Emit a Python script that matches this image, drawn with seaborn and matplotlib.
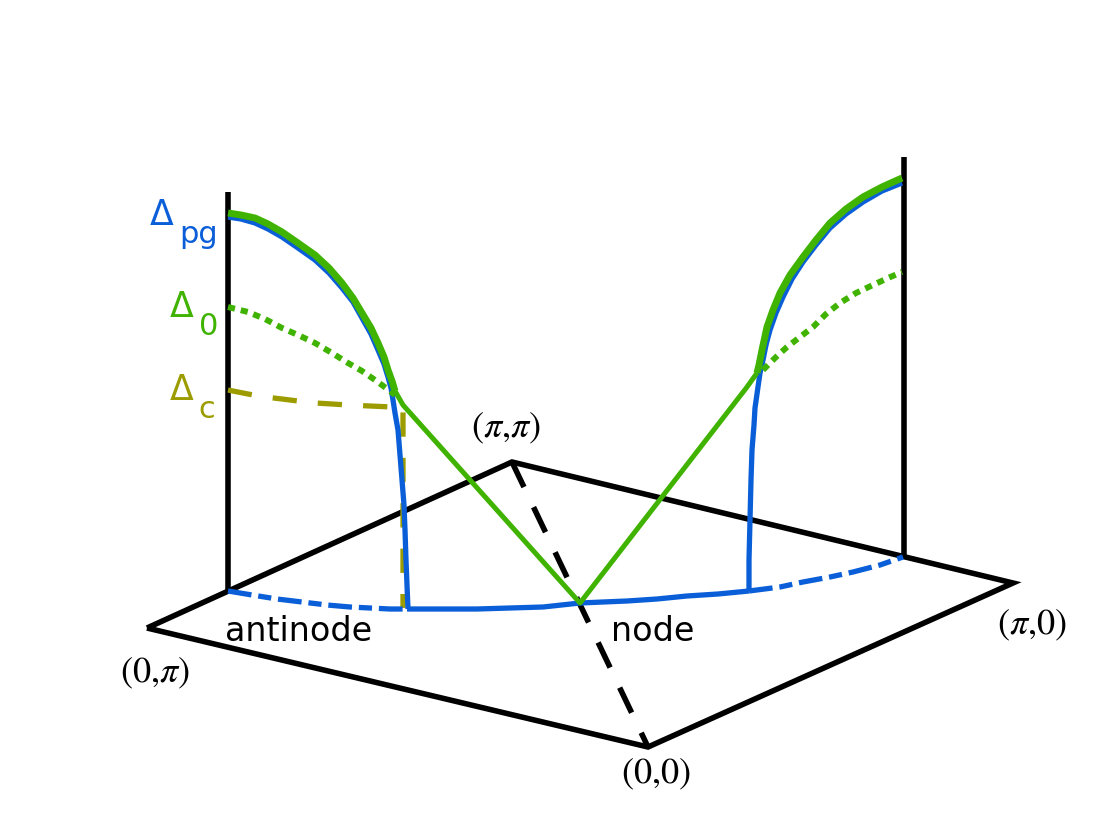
import matplotlib
matplotlib.use('Agg')
import matplotlib.pyplot as plt
import seaborn as sns

# colours
BLUE = '#0a5fd8'
GREEN = '#3fb300'
OLIVE = '#9c9c00'
BLACK = '#000000'

# base square (pixel coords, y grows downward)
base_x = [147, 512, 1013, 648, 147]
base_y = [628, 462, 583, 747, 628]
diag_x = [512, 648]
diag_y = [462, 747]
left_axis_x = [228, 228]
left_axis_y = [592, 192]
right_axis_x = [904, 904]
right_axis_y = [557, 157]

# Fermi arc at the bottom
arc_left_x = [228, 252, 277, 302, 327, 350, 370, 390, 407]
arc_left_y = [591, 595, 599, 602, 605, 607, 608, 609, 609]
arc_mid_x = [407, 440, 477, 510, 543, 580, 603, 627, 657, 687, 718, 749]
arc_mid_y = [609, 609, 609, 608, 607, 603, 602, 601, 599, 596, 594, 591]
arc_right_x = [749, 780, 803, 830, 853, 880, 903]
arc_right_y = [591, 587, 582, 577, 572, 565, 557]

# pseudogap, blue
pg_blue_left_x = [228, 241, 255, 268, 282, 298, 315, 329, 342, 353, 362, 371, 378,
                  384, 388, 391, 393, 395, 398, 400, 402, 404, 405, 406, 407, 408]
pg_blue_left_y = [217, 219, 223, 229, 237, 248, 260, 273, 288, 302, 318, 334, 350,
                  364, 377, 388, 400, 413, 430, 455, 480, 505, 530, 560, 585, 609]
pg_blue_right_x = [749, 749, 750, 751, 752, 754, 755, 758, 760, 763, 766, 770, 776,
                   783, 792, 803, 816, 830, 846, 863, 882, 902]
pg_blue_right_y = [591, 560, 520, 480, 450, 425, 408, 387, 373, 360, 345, 330, 313,
                   297, 279, 262, 245, 228, 214, 202, 191, 183]

# pseudogap, green
pg_green_left_x = [228, 241, 255, 268, 282, 298, 315, 329, 342, 353, 362, 371, 378,
                   384, 388, 392, 395]
pg_green_left_y = [213, 215, 218, 224, 232, 243, 255, 268, 283, 298, 313, 328, 343,
                   357, 370, 381, 391]
pg_green_right_x = [757, 759, 762, 767, 773, 780, 790, 803, 816, 830, 846, 863, 882, 902]
pg_green_right_y = [373, 365, 350, 327, 310, 293, 275, 257, 240, 223, 209, 197, 187, 178]
vee_x = [395, 403, 580, 747, 757]
vee_y = [391, 405, 603, 387, 373]

# Delta_0 dotted
d0_left_x = [228, 248, 265, 282, 298, 315, 332, 348, 362, 375, 386, 395]
d0_left_y = [307, 312, 319, 328, 335, 343, 353, 363, 371, 380, 388, 395]
d0_right_x = [763, 775, 787, 800, 813, 826, 840, 856, 873, 888, 902]
d0_right_y = [370, 358, 347, 337, 327, 314, 303, 293, 285, 278, 272]

# Delta_c dashed
dc_x = [228, 248, 265, 282, 298, 315, 332, 348, 370, 392, 403, 403]
dc_y = [390, 394, 397, 399, 401, 403, 404, 405, 406, 407, 407, 608]

sns.set_style('white')
fig = plt.figure(figsize=(11.2, 8.4), dpi=100)
ax = fig.add_axes([0, 0, 1, 1])
ax.set_xlim(0, 1120)
ax.set_ylim(840, 0)
ax.axis('off')


def curve(xs, ys, color, lw, ls='-', z=2):
    sns.lineplot(x=xs, y=ys, sort=False, estimator=None, color=color,
                 linewidth=lw, linestyle=ls, ax=ax, zorder=z)
    ax.lines[-1].set_solid_capstyle('butt')
    ax.lines[-1].set_solid_joinstyle('round')


curve(base_x, base_y, BLACK, 4.0, z=1)
ax.lines[-1].set_solid_joinstyle('miter')
curve(diag_x, diag_y, BLACK, 4.0, (0, (5.0, 4.0)), z=1)
curve(left_axis_x, left_axis_y, BLACK, 4.0, z=1)
curve(right_axis_x, right_axis_y, BLACK, 4.0, z=1)

curve(dc_x, dc_y, OLIVE, 3.8, (0, (4.6, 4.0)), z=2)

blue_dash = (0, (4.5, 1.3, 2.5, 1.3))
curve(arc_left_x, arc_left_y, BLUE, 3.8, blue_dash, z=3)
curve(arc_mid_x, arc_mid_y, BLUE, 3.8, z=3)
curve(arc_right_x, arc_right_y, BLUE, 3.8, blue_dash, z=3)
curve(pg_blue_left_x, pg_blue_left_y, BLUE, 3.8, z=3)
curve(pg_blue_right_x, pg_blue_right_y, BLUE, 3.8, z=3)

curve(d0_left_x, d0_left_y, GREEN, 4.3, (0, (1.2, 1.0)), z=4)
curve(d0_right_x, d0_right_y, GREEN, 4.3, (0, (1.2, 1.0)), z=4)
curve(vee_x, vee_y, GREEN, 3.6, z=4)
curve(pg_green_left_x, pg_green_left_y, GREEN, 5.0, z=5)
curve(pg_green_right_x, pg_green_right_y, GREEN, 5.0, z=5)

# corner labels
for lx, ly, s in [(506, 428, r'$(\pi{,}\pi)$'), (155, 673, r'$(0{,}\pi)$'),
                  (1032, 625, r'$(\pi{,}0)$'), (656, 774, r'$(0{,}0)$')]:
    ax.text(lx, ly, s, fontsize=26, color=BLACK, ha='center', va='center',
            math_fontfamily='stix')
ax.text(225, 641, 'antinode', fontsize=24, color=BLACK, ha='left', va='baseline')
ax.text(611, 641, 'node', fontsize=24, color=BLACK, ha='left', va='baseline')

# gap labels
ax.text(150, 225, 'Δ', fontsize=25, color=BLUE, ha='left', va='baseline')
ax.text(179, 243, 'pg', fontsize=22, color=BLUE, ha='left', va='baseline')
ax.text(170, 317, 'Δ', fontsize=25, color=GREEN, ha='left', va='baseline')
ax.text(199, 335, '0', fontsize=22, color=GREEN, ha='left', va='baseline')
ax.text(170, 400, 'Δ', fontsize=25, color=OLIVE, ha='left', va='baseline')
ax.text(198, 418, 'c', fontsize=22, color=OLIVE, ha='left', va='baseline')

fig.savefig('out.png', dpi=100)
